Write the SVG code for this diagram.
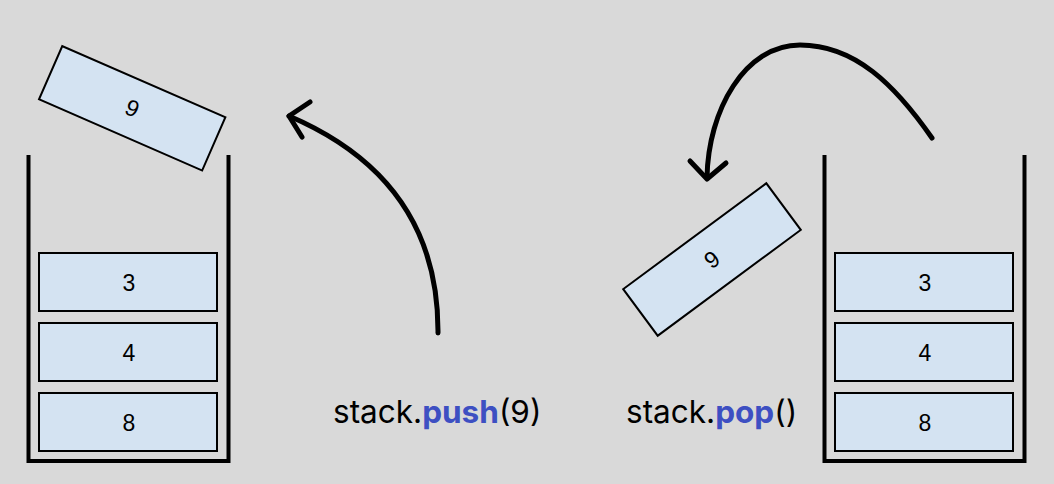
<svg xmlns="http://www.w3.org/2000/svg" width="1054" height="484" viewBox="0 0 1054 484">
  <style>
    .bg { fill: #d9d9d9; }
    .wall { fill: none; stroke: #000; stroke-width: 4; stroke-linejoin: miter; }
    .box { fill: #d4e3f2; stroke: #000; stroke-width: 2; }
    .num { font-family: "Liberation Sans", Arial, sans-serif; font-size: 23px; fill: #000; text-anchor: middle; }
    .label { font-family: Inter, "Noto Sans", sans-serif; font-size: 31.5px; fill: #000; }
    .kw { font-weight: bold; fill: #3d4fc2; }
    .conn { fill: none; stroke: #000; stroke-width: 5; stroke-linecap: round; stroke-linejoin: round; }
  </style>
  <rect class="bg" x="0" y="0" width="1054" height="484"/>

  <g id="left-stack">
    <path class="wall" d="M28.5,155 V461 H228.5 V155"/>
  </g>
  <g id="left-3">
    <rect class="box" x="39" y="253" width="178" height="58"/>
    <text class="num" x="129" y="290.5">3</text>
  </g>
  <g id="left-4">
    <rect class="box" x="39" y="323" width="178" height="58"/>
    <text class="num" x="129" y="360.5">4</text>
  </g>
  <g id="left-8">
    <rect class="box" x="39" y="393" width="178" height="58"/>
    <text class="num" x="129" y="430.5">8</text>
  </g>
  <g id="left-9" transform="translate(132.2,108.3) rotate(23.6)">
    <rect class="box" x="-89" y="-29" width="178" height="58"/>
    <text class="num" x="0" y="8">9</text>
  </g>

  <g id="right-stack">
    <path class="wall" d="M824.5,155 V461 H1024.5 V155"/>
  </g>
  <g id="right-3">
    <rect class="box" x="835" y="253" width="178" height="58"/>
    <text class="num" x="925" y="290.5">3</text>
  </g>
  <g id="right-4">
    <rect class="box" x="835" y="323" width="178" height="58"/>
    <text class="num" x="925" y="360.5">4</text>
  </g>
  <g id="right-8">
    <rect class="box" x="835" y="393" width="178" height="58"/>
    <text class="num" x="925" y="430.5">8</text>
  </g>
  <g id="right-9" transform="translate(712,259.5) rotate(-36.5)">
    <rect class="box" x="-89" y="-29" width="178" height="58"/>
    <text class="num" x="0" y="8">9</text>
  </g>

  <g id="connectors">
    <path class="conn" d="M438,333 Q439,180 289,116"/>
    <path class="conn" d="M310,102 L289,116 L302,137"/>
    <path class="conn" d="M932,138 C895,85 855,45 800,45 C745,45 708,110 707,178"/>
    <path class="conn" d="M690,161 L707,179 L726,163"/>
  </g>

  <g id="label-push">
    <text class="label" x="333" y="422.5">stack.<tspan class="kw">push</tspan>(9)</text>
  </g>
  <g id="label-pop">
    <text class="label" x="626" y="422.5">stack.<tspan class="kw">pop</tspan>()</text>
  </g>
</svg>
